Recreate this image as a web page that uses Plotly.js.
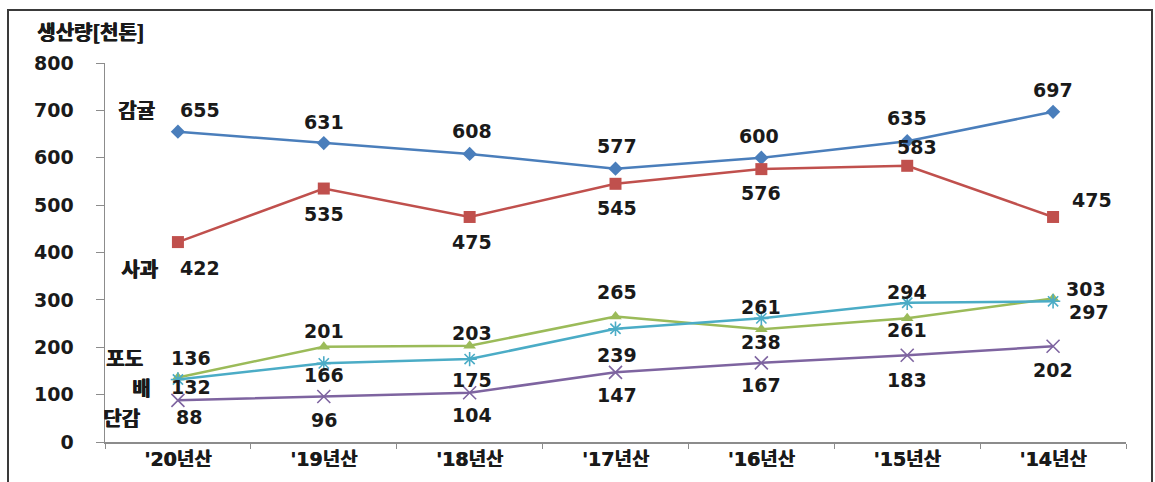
<!DOCTYPE html>
<html>
<head>
<meta charset="utf-8">
<script src="https://cdn.plot.ly/plotly-3.0.1.min.js"></script>
<style>
  html, body { margin:0; padding:0; background:#fff; }
  #wrap { position:relative; width:1155px; height:482px; overflow:hidden; }
  #chart { width:1155px; height:482px; }
  #frame { position:absolute; left:7px; top:9px; width:1142px; height:490px; border:2px solid #3a3a3a; pointer-events:none; }
</style>
</head>
<body>
<div id="wrap"><div id="chart"></div><div id="frame"></div></div>
<script>
// ---- data ----
const categories = ["'20년산", "'19년산", "'18년산", "'17년산", "'16년산", "'15년산", "'14년산"];
const seriesNames = ["감귤", "사과", "포도", "배", "단감"];
const citrus    = [655, 631, 608, 577, 600, 635, 697];
const apple     = [422, 535, 475, 545, 576, 583, 475];
const grape     = [136, 201, 203, 265, 238, 261, 303];
const pear      = [132, 166, 175, 239, 261, 294, 297];
const persimmon = [88, 96, 104, 147, 167, 183, 202];
const yTitle = "생산량[천톤]";

// ---- styles ----
const seriesData = [citrus, apple, grape, pear, persimmon];
const colors  = ["#4A7EBB", "#C0504D", "#9BBB59", "#4BACC6", "#7E64A0"];
const symbols = ["diamond", "square", "triangle-up", "asterisk-open", "x-thin-open"];
const msizes  = [11, 12, 11, 12, 13];
// label offsets in pixels (dx right, dy down) per point
const labelOffsets = [
  [[22,-22],[0,-21],[2,-23],[1,-23],[-2,-22],[0,-23],[0,-22]],
  [[22,26],[0,25],[2,25],[1,24],[0,24],[10,-19],[39,-17]],
  [[13,-20],[0,-16],[2,-13],[1,-24],[0,13],[0,12],[33,-9]],
  [[13,8],[0,12],[2,21],[1,26],[0,-11],[0,-11],[36,11]],
  [[11,17],[0,23],[2,22],[1,23],[0,22],[0,25],[0,24]]
];
const nameOffsets = [[-41,-22],[-38,26],[-53,-20],[-37,8],[-56,17]];

const FONT = "DejaVu Sans, Noto Sans CJK KR, sans-serif";
const KFONT = "Noto Sans CJK KR, DejaVu Sans, sans-serif";
const TXT = "#1a1a1a";
const FAUXBOLD = "0.8px 0 0 #1a1a1a, 0 0.4px 0 #1a1a1a";
const b = t => "<b>" + t + "</b>";

const traces = seriesData.map((vals, s) => ({
  type: "scatter",
  mode: "lines+markers",
  x: categories,
  y: vals,
  name: seriesNames[s],
  line: { color: colors[s], width: 2.5 },
  marker: { symbol: symbols[s], size: msizes[s], color: colors[s],
            line: { color: colors[s], width: (s >= 3 ? 1.6 : 0) } },
  hoverinfo: "x+y+name"
}));

const annotations = [];
seriesData.forEach((vals, s) => {
  vals.forEach((v, i) => {
    const off = labelOffsets[s][i];
    annotations.push({
      x: categories[i], y: v, xref: "x", yref: "y",
      text: b(String(v)), showarrow: false,
      xanchor: "center", yanchor: "middle",
      xshift: off[0], yshift: -off[1],
      font: { family: FONT, size: 19, color: TXT }
    });
  });
  const no = nameOffsets[s];
  annotations.push({
    x: categories[0], y: vals[0], xref: "x", yref: "y",
    text: b(seriesNames[s]), showarrow: false,
    xanchor: "center", yanchor: "middle",
    xshift: no[0], yshift: -no[1],
    font: { family: KFONT, size: 20, color: TXT, shadow: FAUXBOLD }
  });
});

const layout = {
  width: 1155, height: 482,
  margin: { l: 105, r: 29, t: 63, b: 40, pad: 0 },
  paper_bgcolor: "#ffffff", plot_bgcolor: "#ffffff",
  showlegend: false,
  title: {
    text: b(yTitle), xref: "container", yref: "container",
    x: 37/1155, xanchor: "left", y: 1 - 33/482, yanchor: "middle",
    font: { family: KFONT, size: 20, color: TXT, shadow: FAUXBOLD }
  },
  xaxis: {
    type: "category", range: [-0.5, 6.5],
    showgrid: false, zeroline: false,
    showline: true, linecolor: "#8c8c8c", linewidth: 1.5,
    ticks: "outside", tickson: "boundaries", ticklen: 5, tickcolor: "#8c8c8c",
    tickfont: { family: FONT, size: 19, color: TXT, weight: "bold", shadow: "0.6px 0 0 #1a1a1a" }
  },
  yaxis: {
    range: [0, 800], dtick: 100, tick0: 0,
    showgrid: false, zeroline: false,
    showline: true, linecolor: "#8c8c8c", linewidth: 1.5,
    ticks: "outside", ticklen: 8, tickcolor: "#8c8c8c",
    ticklabelstandoff: 18,
    tickfont: { family: FONT, size: 19, color: TXT, weight: "bold" }
  },
  annotations: annotations
};

Plotly.newPlot("chart", traces, layout, { displayModeBar: false, staticPlot: true });
</script>
</body>
</html>
